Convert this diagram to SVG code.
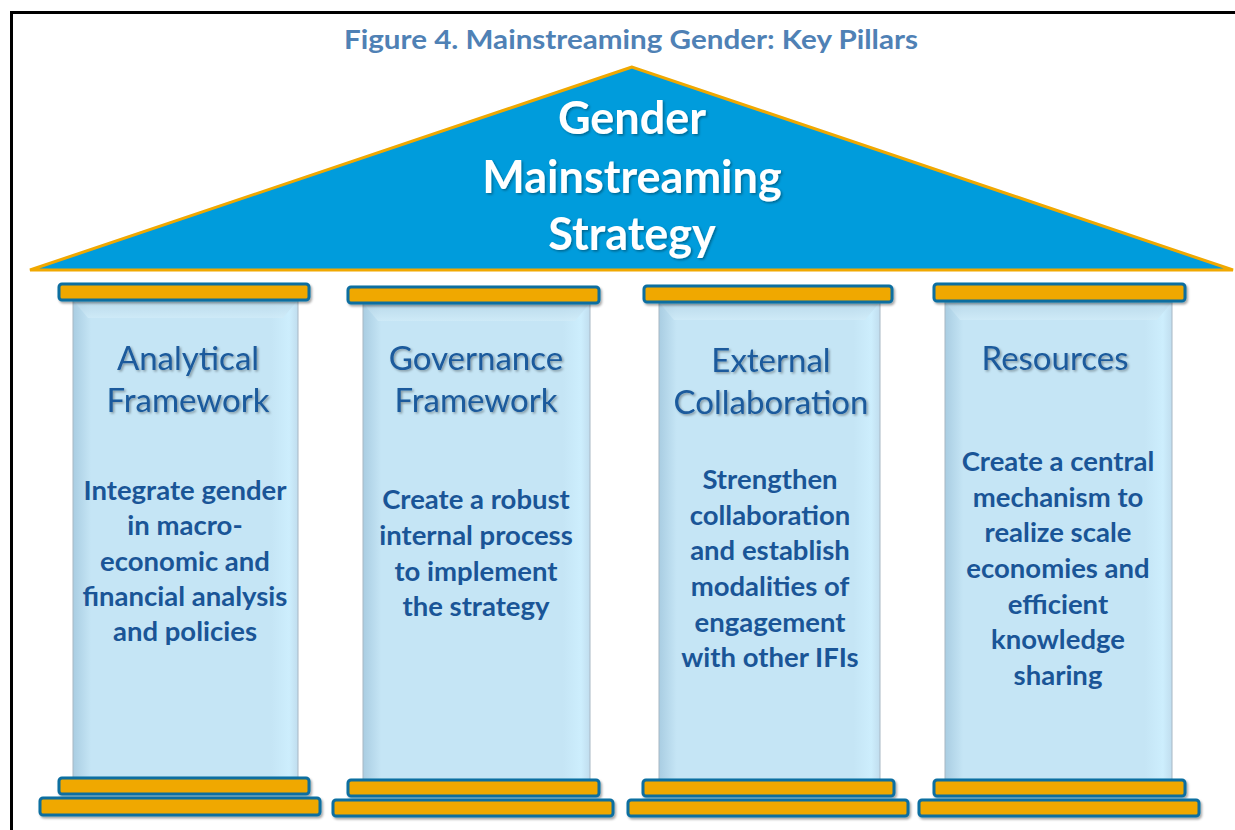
<svg xmlns="http://www.w3.org/2000/svg" width="1235" height="830" viewBox="0 0 1235 830">
<defs>
<style>
.title{font-family:Lato,"Open Sans",sans-serif;font-weight:700;font-size:27px;fill:#4F81B5;text-anchor:middle}
.roof{font-family:Lato,"Open Sans",sans-serif;font-weight:700;font-size:45px;fill:#ffffff;text-anchor:middle}
.head{font-family:Lato,"Open Sans",sans-serif;font-weight:400;font-size:33px;fill:#1A5A9C;text-anchor:middle}
.body{font-family:Lato,"Open Sans",sans-serif;font-weight:700;font-size:27.5px;fill:#1A5597;text-anchor:middle}
.slab{fill:#F0A800;stroke:#0A6EA0;stroke-width:3}
.shaft{fill:url(#shaftGrad);stroke:#A8B8C4;stroke-width:1}
</style>
<linearGradient id="shaftGrad" x1="0" y1="0" x2="1" y2="0">
<stop offset="0" stop-color="#A9CDE2"/>
<stop offset="0.08" stop-color="#C5E5F5"/>
<stop offset="0.88" stop-color="#C5E5F5"/>
<stop offset="0.96" stop-color="#CDEEFD"/>
<stop offset="1" stop-color="#C0DDEE"/>
</linearGradient>
<linearGradient id="bevelGrad" x1="0" y1="0" x2="0" y2="1">
<stop offset="0" stop-color="#B4D4E6"/>
<stop offset="1" stop-color="#D2ECF8"/>
</linearGradient>
<filter id="shadow" x="-10%" y="-10%" width="130%" height="140%">
<feDropShadow dx="1.5" dy="2" stdDeviation="1.2" flood-color="#000" flood-opacity="0.35"/>
</filter>
<filter id="tshadow" x="-10%" y="-20%" width="120%" height="150%">
<feDropShadow dx="1.5" dy="1.5" stdDeviation="1" flood-color="#000" flood-opacity="0.35"/>
</filter>
</defs>
<rect x="0" y="0" width="1235" height="830" fill="#ffffff"/>
<path d="M11.5 830 V12.5 H1235" fill="none" stroke="#000" stroke-width="3"/>
<text class="title" x="631" y="49" textLength="574" lengthAdjust="spacingAndGlyphs">Figure 4. Mainstreaming Gender: Key Pillars</text>

<g id="roof">
<polygon points="632,67 30,270 1233,270" fill="#009CDC" stroke="#F0A800" stroke-width="3" stroke-linejoin="miter"/>
<g filter="url(#tshadow)">
<text class="roof" x="632" y="134">Gender</text>
<text class="roof" x="632" y="193">Mainstreaming</text>
<text class="roof" x="632" y="250">Strategy</text>
</g>
</g>

<g id="pillar1">
<rect class="shaft" x="73" y="300" width="225" height="480"/>
<polygon points="73,300 298,300 283,318 88,318" fill="url(#bevelGrad)" opacity="0.7"/>
<g filter="url(#shadow)">
<rect class="slab" x="59" y="284" width="250" height="16" rx="3"/>
<rect class="slab" x="59" y="778" width="250" height="16" rx="3"/>
<rect class="slab" x="40" y="798" width="280" height="17" rx="3"/>
</g>
<g filter="url(#tshadow)">
<text class="head" x="188" y="370">Analytical</text>
<text class="head" x="188" y="412">Framework</text>
</g>
<text class="body" x="185" y="500">Integrate gender</text>
<text class="body" x="185" y="535">in macro-</text>
<text class="body" x="185" y="571">economic and</text>
<text class="body" x="185" y="606">financial analysis</text>
<text class="body" x="185" y="641">and policies</text>
</g>

<g id="pillar2">
<rect class="shaft" x="363" y="303" width="227" height="477"/>
<polygon points="363,303 590,303 575,321 378,321" fill="url(#bevelGrad)" opacity="0.7"/>
<g filter="url(#shadow)">
<rect class="slab" x="348" y="287" width="251" height="16" rx="3"/>
<rect class="slab" x="348" y="780" width="251" height="16" rx="3"/>
<rect class="slab" x="333" y="800" width="280" height="16" rx="3"/>
</g>
<g filter="url(#tshadow)">
<text class="head" x="476" y="370">Governance</text>
<text class="head" x="476" y="412">Framework</text>
</g>
<text class="body" x="476" y="509">Create a robust</text>
<text class="body" x="476" y="545">internal process</text>
<text class="body" x="476" y="581">to implement</text>
<text class="body" x="476" y="616">the strategy</text>
</g>

<g id="pillar3">
<rect class="shaft" x="659" y="302" width="221" height="478"/>
<polygon points="659,302 880,302 865,320 674,320" fill="url(#bevelGrad)" opacity="0.7"/>
<g filter="url(#shadow)">
<rect class="slab" x="644" y="286" width="248" height="16" rx="3"/>
<rect class="slab" x="643" y="780" width="251" height="16" rx="3"/>
<rect class="slab" x="628" y="800" width="280" height="16" rx="3"/>
</g>
<g filter="url(#tshadow)">
<text class="head" x="771" y="372">External</text>
<text class="head" x="771" y="414">Collaboration</text>
</g>
<text class="body" x="770" y="489">Strengthen</text>
<text class="body" x="770" y="525">collaboration</text>
<text class="body" x="770" y="560">and establish</text>
<text class="body" x="770" y="596">modalities of</text>
<text class="body" x="770" y="632">engagement</text>
<text class="body" x="770" y="667">with other IFIs</text>
</g>

<g id="pillar4">
<rect class="shaft" x="945" y="302" width="227" height="478"/>
<polygon points="945,302 1172,302 1157,320 960,320" fill="url(#bevelGrad)" opacity="0.7"/>
<g filter="url(#shadow)">
<rect class="slab" x="934" y="284" width="251" height="17" rx="3"/>
<rect class="slab" x="934" y="780" width="251" height="16" rx="3"/>
<rect class="slab" x="919" y="800" width="280" height="16" rx="3"/>
</g>
<g filter="url(#tshadow)">
<text class="head" x="1055" y="370">Resources</text>
</g>
<text class="body" x="1058" y="471">Create a central</text>
<text class="body" x="1058" y="507">mechanism to</text>
<text class="body" x="1058" y="542">realize scale</text>
<text class="body" x="1058" y="578">economies and</text>
<text class="body" x="1058" y="614">efficient</text>
<text class="body" x="1058" y="649">knowledge</text>
<text class="body" x="1058" y="685">sharing</text>
</g>
</svg>
